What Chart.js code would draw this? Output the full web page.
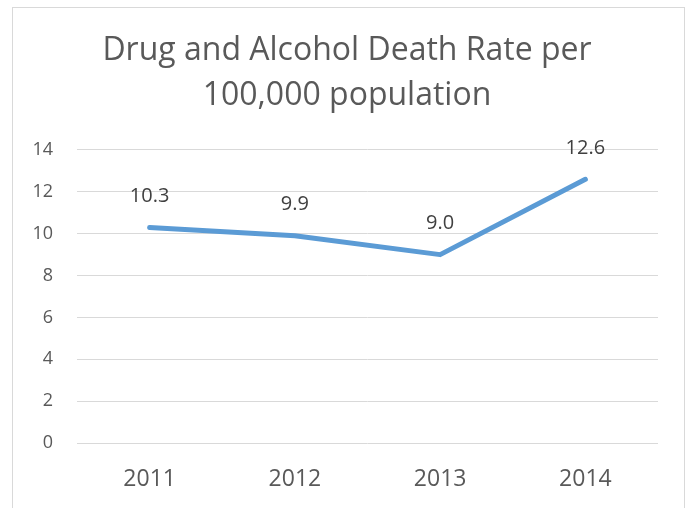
<!DOCTYPE html>
<html>
<head>
<meta charset="utf-8">
<script src="https://cdn.jsdelivr.net/npm/chart.js@4"></script>
<style>
  html, body { margin: 0; padding: 0; background: #fff; overflow: hidden; }
  #frame { position: absolute; left: 12px; top: 7px; width: 671px; height: 520px; border: 1px solid #d9d9d9; }
  #wrap { position: absolute; left: 0; top: 0; width: 686px; height: 508px; }
</style>
</head>
<body>
<div id="frame"></div>
<div id="wrap"><canvas id="rateChart" width="686" height="508"></canvas></div>
<script>
var years = ['2011', '2012', '2013', '2014'];
var deathRates = [10.3, 9.9, 9.0, 12.6];
var yTicks = [0, 2, 4, 6, 8, 10, 12, 14];

var FONT = '"Open Sans", "Noto Sans", sans-serif';
var TEXT = '#595959';

// value labels above each point
var pointLabels = {
  id: 'pointLabels',
  afterDatasetsDraw: function (chart) {
    var ctx = chart.ctx;
    var meta = chart.getDatasetMeta(0);
    ctx.save();
    ctx.font = '20px ' + FONT;
    ctx.fillStyle = '#404040';
    ctx.textAlign = 'center';
    ctx.textBaseline = 'middle';
    meta.data.forEach(function (pt, i) {
      ctx.fillText(deathRates[i].toFixed(1), pt.x, pt.y - 31);
    });
    ctx.restore();
  }
};

document.addEventListener('DOMContentLoaded', function () {
  var canvas = document.getElementById('rateChart');
  new Chart(canvas.getContext('2d'), {
    type: 'line',
    data: {
      labels: years,
      datasets: [{
        label: 'Death rate',
        data: deathRates,
        borderColor: '#5b9bd5',
        borderWidth: 5,
        borderCapStyle: 'round',
        borderJoinStyle: 'round',
        pointRadius: 0,
        tension: 0,
        fill: false
      }]
    },
    options: {
      responsive: false,
      animation: false,
      layout: { padding: { left: 8, right: 0, top: 0, bottom: 0 } },
      plugins: {
        legend: { display: false },
        tooltip: { enabled: false },
        title: {
          display: true,
          text: ['Drug and Alcohol Death Rate per', '100,000 population'],
          color: TEXT,
          font: { family: FONT, size: 32, weight: 'normal', lineHeight: 1.406 },
          padding: { top: 28, bottom: 32 }
        }
      },
      scales: {
        x: {
          offset: true,
          grid: { display: false, drawTicks: false },
          border: { display: false },
          ticks: { color: TEXT, font: { family: FONT, size: 23 }, padding: 23 },
          afterFit: function (scale) { scale.height = 65; }
        },
        y: {
          min: 0,
          max: 14,
          afterBuildTicks: function (scale) {
            scale.ticks = yTicks.map(function (v) { return { value: v }; });
          },
          grid: { color: '#d9d9d9', lineWidth: 1, drawTicks: false },
          border: { display: false },
          ticks: { color: TEXT, font: { family: FONT, size: 18 }, padding: 24 },
          afterFit: function (scale) { scale.width = 69; }
        },
        // empty right-hand strip so the plot ends where the frame margin starts
        yRight: {
          position: 'right',
          grid: { display: false, drawTicks: false },
          border: { display: false },
          ticks: { display: false },
          afterFit: function (scale) { scale.width = 28; }
        }
      }
    },
    plugins: [pointLabels]
  });
});
</script>
</body>
</html>
